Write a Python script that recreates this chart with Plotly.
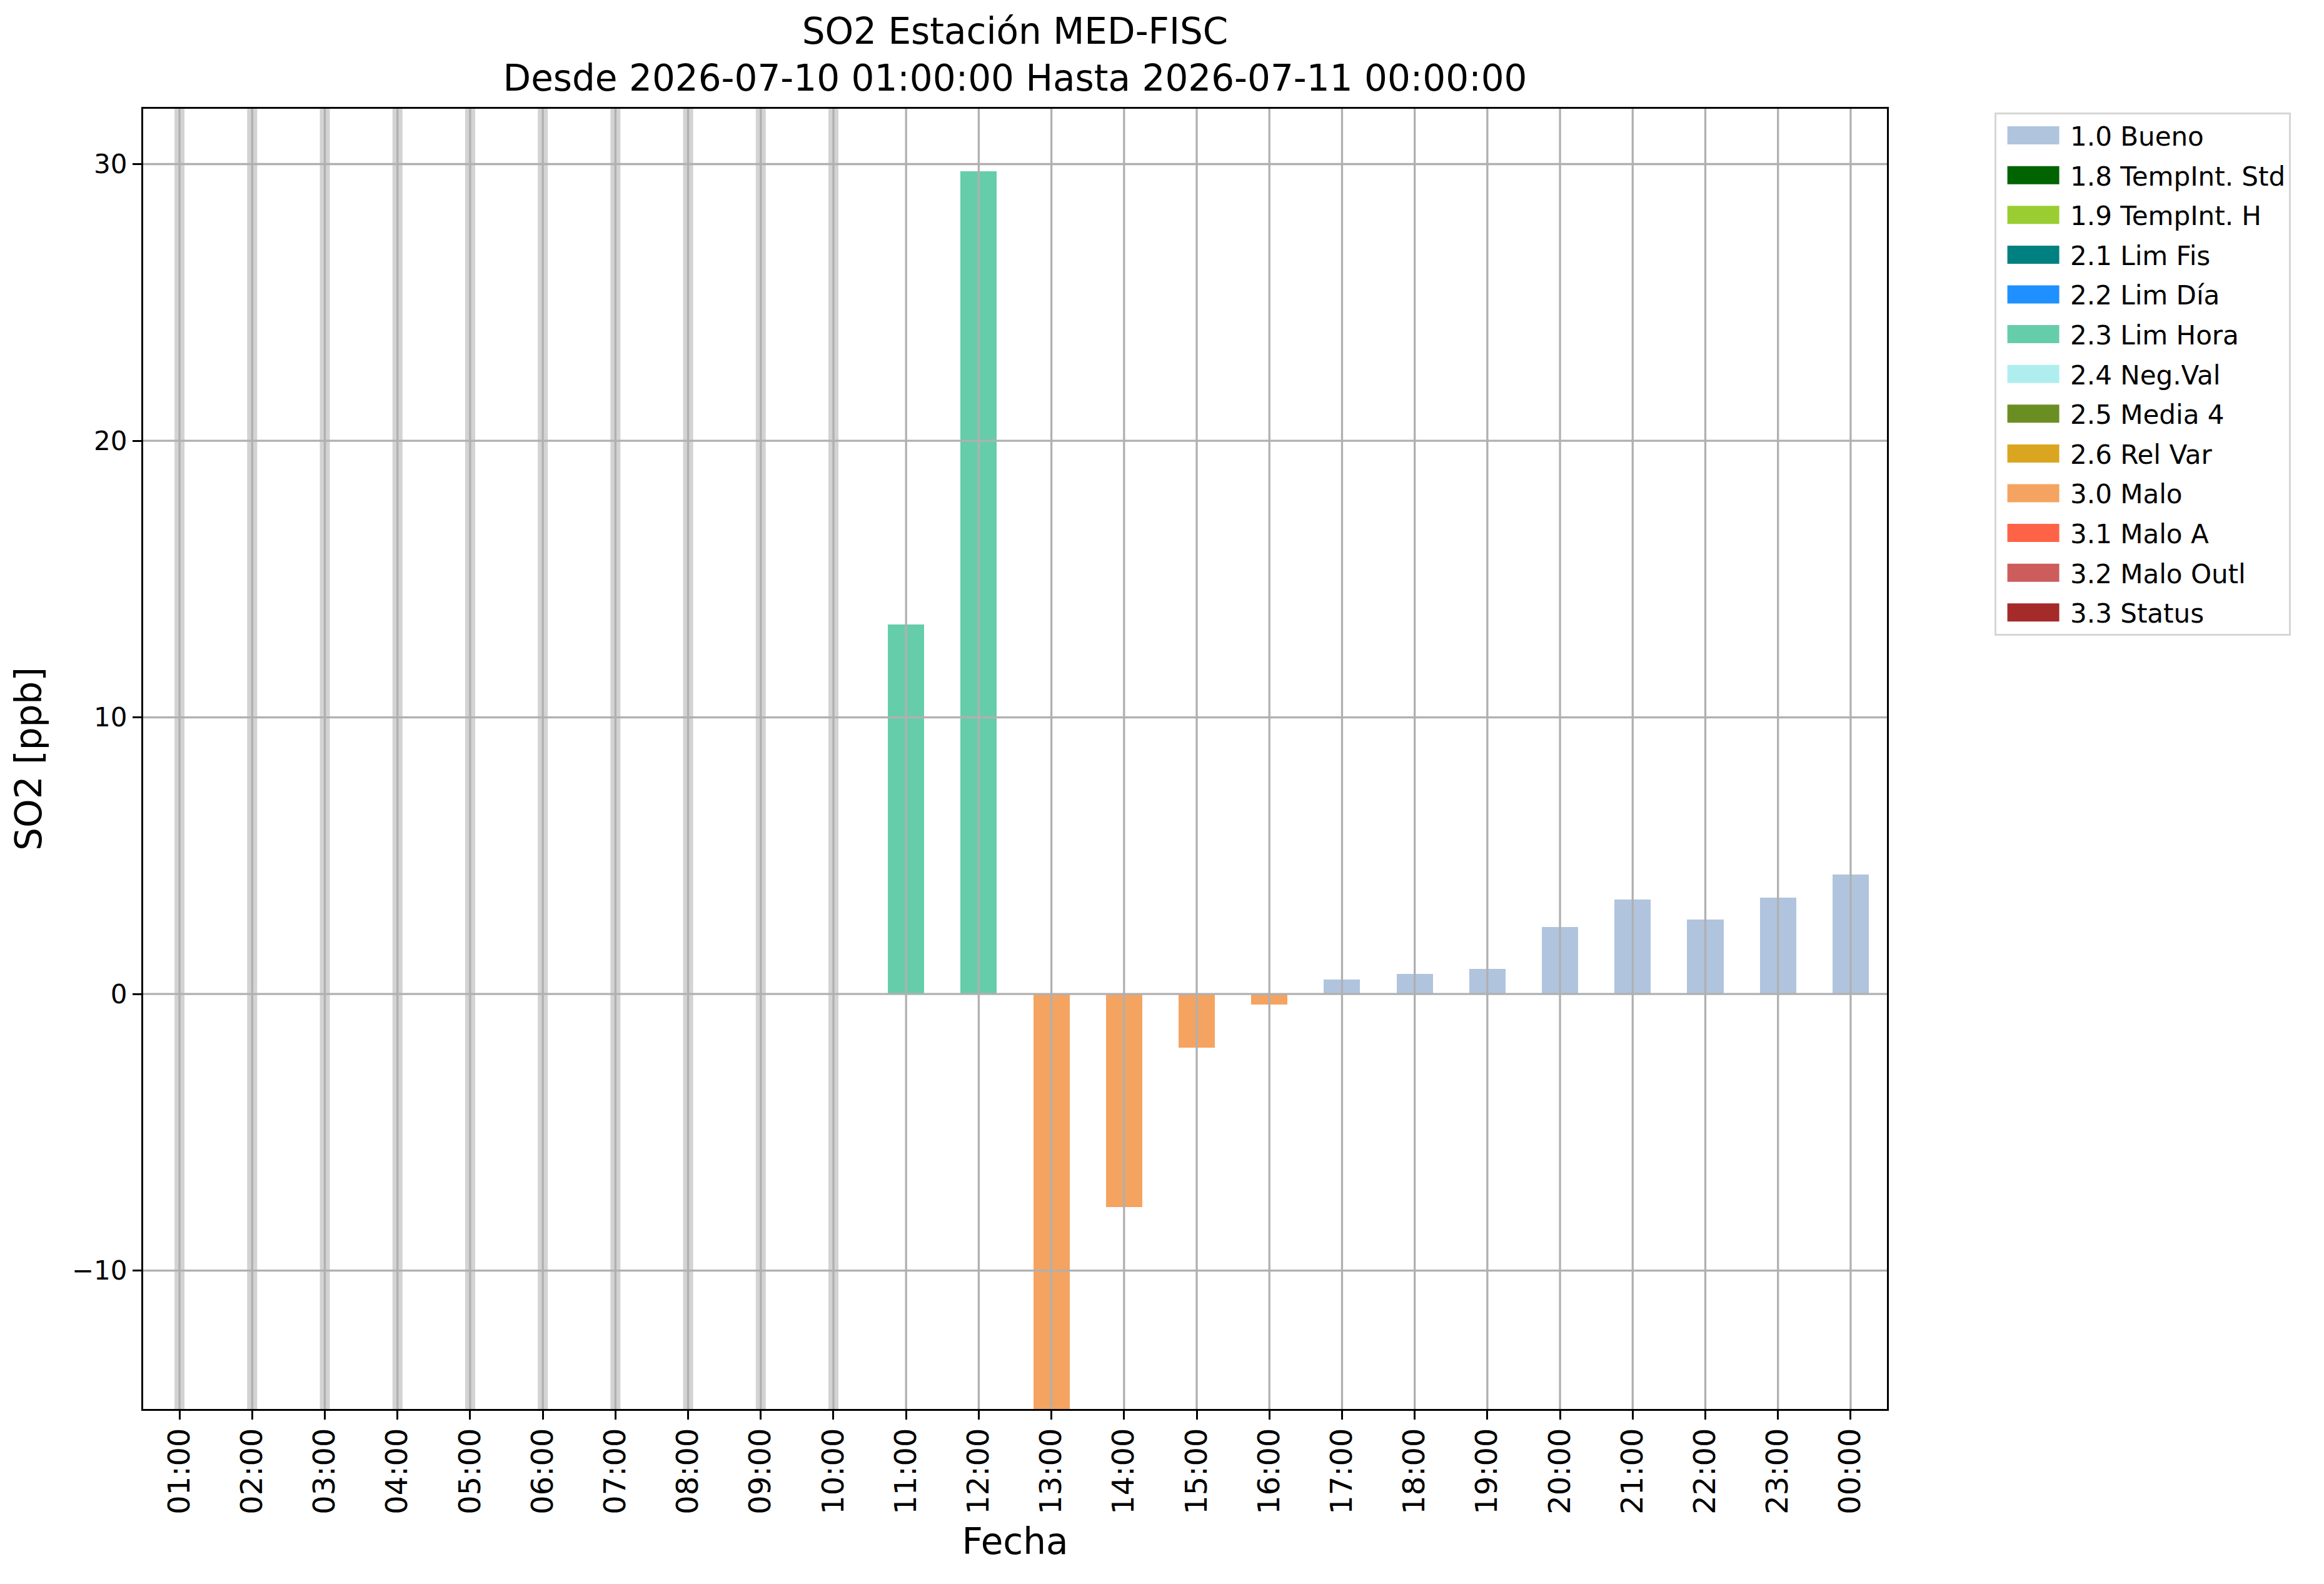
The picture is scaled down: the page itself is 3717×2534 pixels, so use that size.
import plotly.graph_objects as go

# ---------------- data ----------------
hours = ["01:00", "02:00", "03:00", "04:00", "05:00", "06:00", "07:00", "08:00",
         "09:00", "10:00", "11:00", "12:00", "13:00", "14:00", "15:00", "16:00",
         "17:00", "18:00", "19:00", "20:00", "21:00", "22:00", "23:00", "00:00"]

so2_values = [None, None, None, None, None, None, None, None, None, None,
              13.35, 29.75, -15.0, -7.7, -1.95, -0.38,
              0.52, 0.72, 0.90, 2.43, 3.42, 2.70, 3.49, 4.32]

flags = [None, None, None, None, None, None, None, None, None, None,
         "2.3 Lim Hora", "2.3 Lim Hora", "3.0 Malo", "3.0 Malo", "3.0 Malo", "3.0 Malo",
         "1.0 Bueno", "1.0 Bueno", "1.0 Bueno", "1.0 Bueno", "1.0 Bueno", "1.0 Bueno",
         "1.0 Bueno", "1.0 Bueno"]

classes = ["1.0 Bueno", "1.8 TempInt. Std", "1.9 TempInt. H", "2.1 Lim Fis",
           "2.2 Lim Día", "2.3 Lim Hora", "2.4 Neg.Val", "2.5 Media 4",
           "2.6 Rel Var", "3.0 Malo", "3.1 Malo A", "3.2 Malo Outl", "3.3 Status"]

class_colors = ["#B0C4DE", "#006400", "#9ACD32", "#008080", "#1E90FF", "#66CDAA",
                "#AFEEEE", "#6B8E23", "#DAA520", "#F4A460", "#FF6347", "#CD5C5C",
                "#A52A2A"]

y_ticks = [-10, 0, 10, 20, 30]
y_tick_text = ["\u221210", "0", "10", "20", "30"]
y_range = [-15, 32]

title_text = "SO2 Estación MED-FISC<br>Desde 2026-07-10 01:00:00 Hasta 2026-07-11 00:00:00"
x_title = "Fecha"
y_title = "SO2 [ppb]"

# ---------------- styling ----------------
W, H = 3717, 2534
FONT = "DejaVu Sans"
GRID = "#b0b0b0"
MISSING = "#d3d3d3"
LW = 3.3

fig = go.Figure()

for cls, col in zip(classes, class_colors):
    ys = [v if f == cls else None for v, f in zip(so2_values, flags)]
    fig.add_trace(go.Bar(
        x=hours, y=ys, name=cls, width=0.5,
        marker=dict(color=col, line=dict(width=0)),
        legendgroup=cls, showlegend=True,
    ))

shapes = []
# missing-data bands
for i, (h, v) in enumerate(zip(hours, so2_values)):
    if v is None:
        shapes.append(dict(type="line", xref="x", yref="paper", x0=i, x1=i, y0=0, y1=1,
                           line=dict(color=MISSING, width=16), layer="below"))
# grid drawn above bars (like the reference)
for i, h in enumerate(hours):
    shapes.append(dict(type="line", xref="x", yref="paper", x0=i, x1=i, y0=0, y1=1,
                       line=dict(color=GRID, width=LW), layer="above"))
for v in y_ticks:
    shapes.append(dict(type="line", xref="paper", yref="y", x0=0, x1=1, y0=v, y1=v,
                       line=dict(color=GRID, width=LW), layer="above"))

fig.update_layout(
    width=W, height=H,
    margin=dict(l=221, r=707, t=166, b=288, autoexpand=False),
    paper_bgcolor="white", plot_bgcolor="white",
    font=dict(family=FONT, color="black"),
    barmode="overlay",
    bargap=0,
    shapes=shapes,
    title=dict(text=title_text, x=0.5, xref="paper", xanchor="center",
               yref="paper", y=1, yanchor="bottom", pad=dict(b=104),
               font=dict(family=FONT, size=58, color="black")),
    legend=dict(x=1.0617, y=0.9972, xanchor="left", yanchor="top",
                bgcolor="white", bordercolor="#d6d6d6", borderwidth=3,
                font=dict(family=FONT, size=42, color="black"),
                itemwidth=108, tracegroupgap=6, traceorder="grouped"),
    showlegend=True,
)

fig.update_xaxes(
    type="category", categoryorder="array", categoryarray=hours,
    range=[-0.5, len(hours) - 0.5],
    showgrid=False, zeroline=False,
    showline=True, linecolor="black", linewidth=LW, mirror=True,
    ticks="outside", ticklen=14, tickwidth=LW, tickcolor="black",
    tickangle=-90, tickfont=dict(family=FONT, size=48, color="black"),
    ticklabelstandoff=-6,
    title=dict(text=x_title, font=dict(family=FONT, size=58, color="black"), standoff=24),
    automargin=False,
)
fig.update_yaxes(
    range=y_range, tickvals=y_ticks, ticktext=y_tick_text,
    showgrid=False, zeroline=False,
    showline=True, linecolor="black", linewidth=LW, mirror=True,
    ticks="outside", ticklen=14, tickwidth=LW, tickcolor="black",
    tickfont=dict(family=FONT, size=42, color="black"),
    title=dict(text=y_title, font=dict(family=FONT, size=58, color="black"), standoff=30),
    automargin=False,
)

post_js = """
var gd = document.getElementById('{plot_id}');
function fixLegend(){
  gd.querySelectorAll('.legend .traces .legendpoints path').forEach(function(p){
    p.setAttribute('d','M41.5,14.5H-41.5V-14.5H41.5Z');
    p.style.strokeWidth='0px';
  });
}
fixLegend();
if (gd.on) { gd.on('plotly_afterplot', fixLegend); }
"""

fig.write_html("out.html", post_script=post_js, config={"displayModeBar": False})
